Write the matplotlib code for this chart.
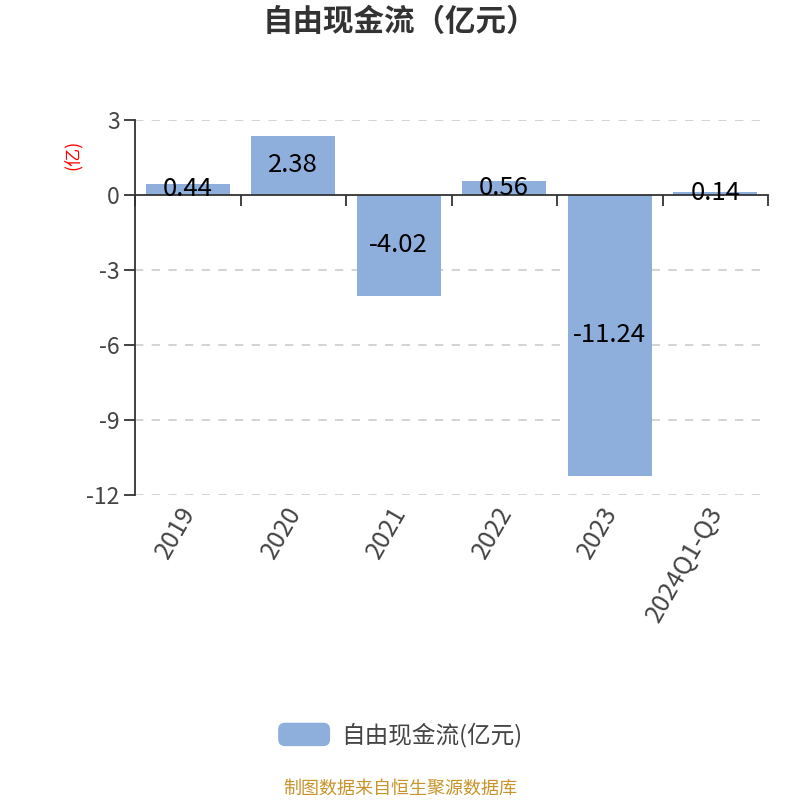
import matplotlib
matplotlib.use("Agg")
import matplotlib.pyplot as plt
from matplotlib.patches import FancyBboxPatch
from matplotlib.legend_handler import HandlerPatch

plt.rcParams['font.family'] = ['Noto Sans CJK SC', 'DejaVu Sans']

years = ['2019', '2020', '2021', '2022', '2023', '2024Q1-Q3']
fcf = [0.44, 2.38, -4.02, 0.56, -11.24, 0.14]
yticks = [3, 0, -3, -6, -9, -12]

bar_color = '#8eaedb'
axis_color = '#333333'
text_color = '#444444'

fig = plt.figure(figsize=(8, 8), dpi=100)
# plot area in pixels: x 135..768, y 120..495
ax = fig.add_axes([135/800, 1-495/800, (768-135)/800, (495-120)/800])

x = list(range(len(years)))
bars = ax.bar(x, fcf, width=0.8, color=bar_color, zorder=2)

ax.set_xlim(-0.5, len(years)-0.5)
ax.set_ylim(-12, 3)
ax.set_yticks(yticks)
ax.set_yticklabels([str(v) for v in yticks], fontsize=16.5, color=text_color)
ax.tick_params(axis='y', length=8, width=1.3, color=axis_color, pad=3)

for v in yticks:
    if v != 0:
        ax.axhline(v, color='#cccccc', lw=1.2, ls=(0, (5, 5)), zorder=0)

for s in ['top', 'right']:
    ax.spines[s].set_visible(False)
ax.spines['left'].set_color(axis_color)
ax.spines['left'].set_linewidth(1.3)
ax.spines['bottom'].set_position(('data', 0))
ax.spines['bottom'].set_color(axis_color)
ax.spines['bottom'].set_linewidth(1.3)
ax.spines['bottom'].set_zorder(3)

# ticks on the zero line at category boundaries
ax.set_xticks([i - 0.5 for i in range(len(years)+1)])
ax.set_xticklabels([])
ax.tick_params(axis='x', length=8, width=1.3, color=axis_color, direction='out')

# category labels at the bottom of the plot area
for i, lab in enumerate(years):
    ax.text(i + 0.02, -0.035, lab, transform=ax.get_xaxis_transform(),
            rotation=60, rotation_mode='anchor', ha='right', va='center',
            fontsize=18, color=text_color)

# value labels centered in the bars
for i, v in enumerate(fcf):
    ax.text(i, v/2, f'{v:.2f}', ha='center', va='center', fontsize=18.5,
            color='black', zorder=4)

fig.text(73/800, 1-155/800, '(亿)', rotation=90, ha='center', va='center',
         fontsize=13, color='red')

fig.text(0.5, 1-22/800, '自由现金流（亿元）', ha='center', va='center',
         fontsize=22, fontweight='bold', color='#333333')


class RoundHandler(HandlerPatch):
    def create_artists(self, legend, orig_handle, xdescent, ydescent,
                       width, height, fontsize, trans):
        p = FancyBboxPatch((-xdescent, -ydescent), width, height,
                           boxstyle='round,pad=0,rounding_size=5',
                           facecolor=bar_color, edgecolor='none',
                           transform=trans)
        return [p]


leg = fig.legend([bars.patches[0]], ['自由现金流(亿元)'],
                 loc='center', bbox_to_anchor=(0.5, 1-735/800),
                 frameon=False, fontsize=17, handlelength=2.2,
                 handleheight=1.15, handletextpad=0.45,
                 handler_map={bars.patches[0].__class__: RoundHandler()})
for t in leg.get_texts():
    t.set_color(text_color)

fig.text(0.5, 1-789/800, '制图数据来自恒生聚源数据库', ha='center', va='center',
         fontsize=13, color='#c8942a')

fig.savefig('out.png', dpi=100)
